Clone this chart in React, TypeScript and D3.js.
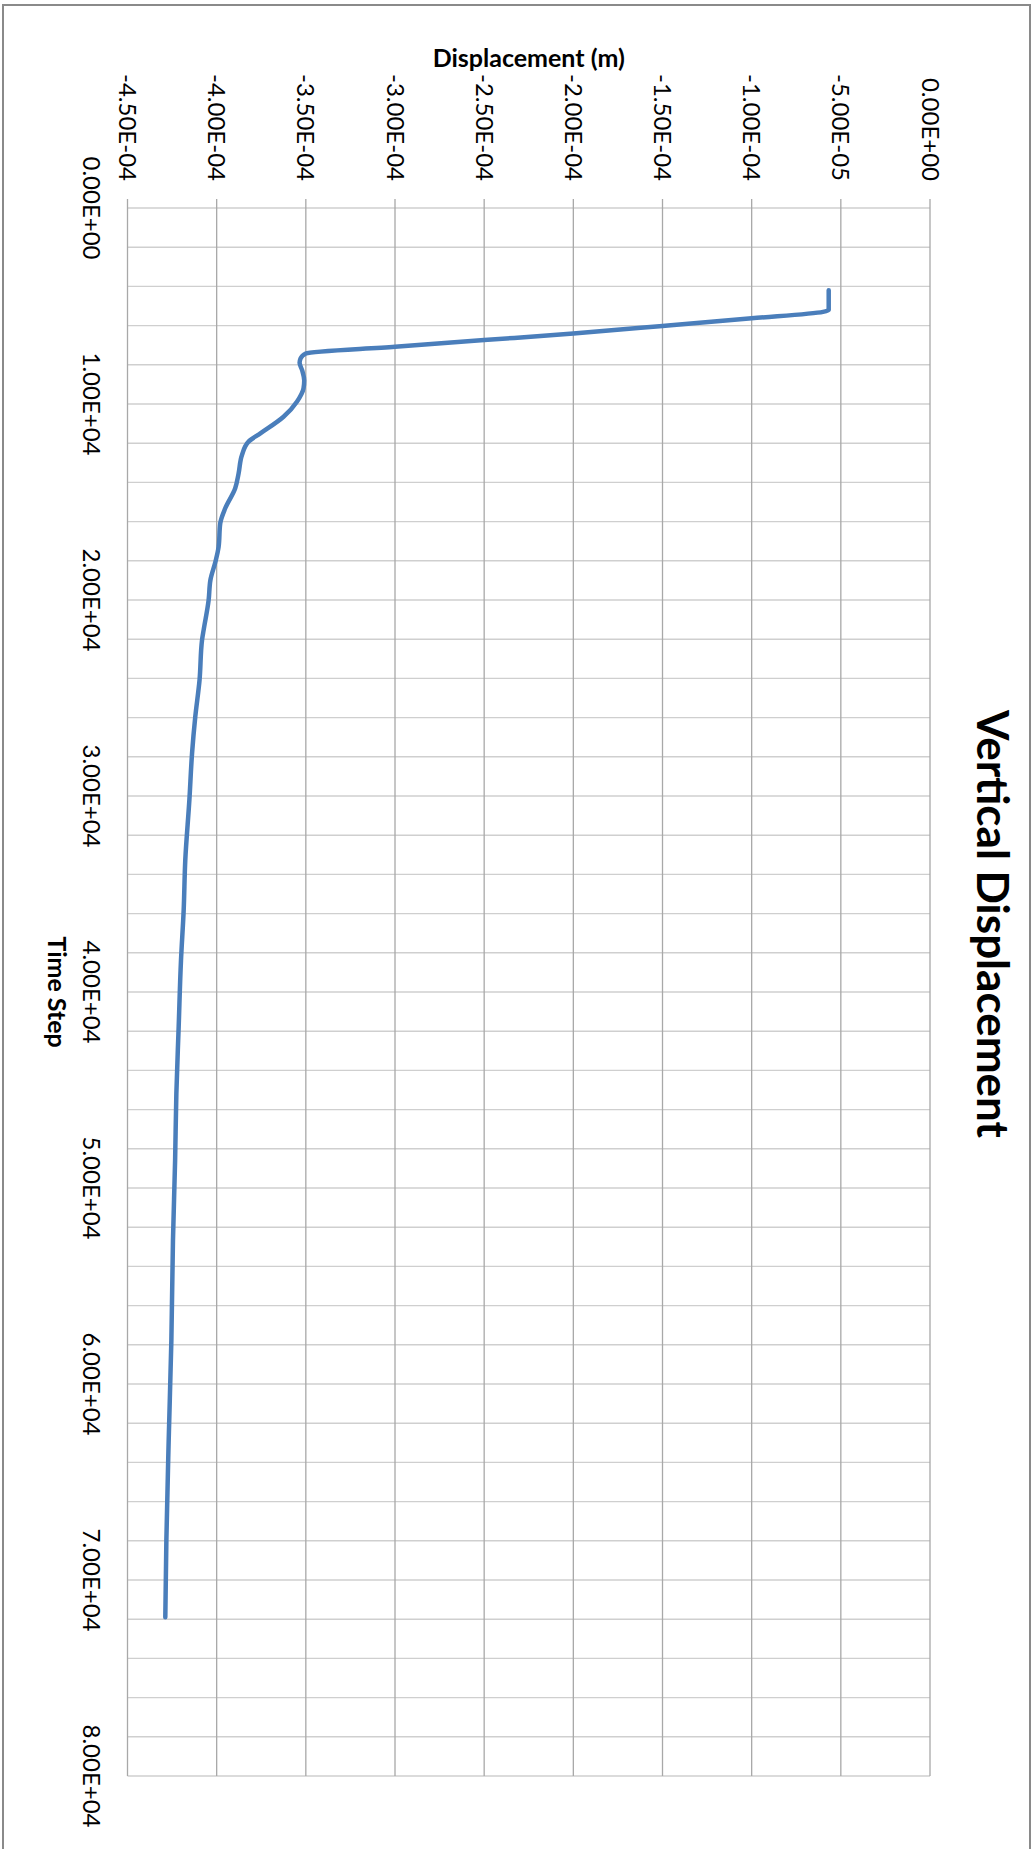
import React from "react";
import * as d3 from "d3";

// Time step samples of the monitored node
const timeSteps = [
  4200, 5200, 5300, 5630, 6020, 6400, 6740, 7080, 7420, 7680, 7900, 8300, 8800,
  9200, 9880, 10650, 11500, 11920, 12600, 13540, 14300, 15320, 16090, 17280,
  18050, 18980, 20000, 21530, 22040, 24080, 25960, 27820, 30200, 33270, 35820,
  38370, 41770, 45170, 48570, 52650, 57760, 62860, 67960, 71900,
];

// Vertical displacement (m) at each time step
const displacement = [
  -5.68e-5, -5.68e-5, -6.0e-5, -1.0e-4, -1.5e-4, -2.0e-4, -2.5e-4, -3.0e-4,
  -3.5e-4, -3.53e-4, -3.535e-4, -3.52e-4, -3.509e-4, -3.513e-4, -3.55e-4,
  -3.625e-4, -3.755e-4, -3.821e-4, -3.858e-4, -3.877e-4, -3.896e-4, -3.952e-4,
  -3.98e-4, -3.989e-4, -4.007e-4, -4.035e-4, -4.045e-4, -4.073e-4, -4.082e-4,
  -4.096e-4, -4.12e-4, -4.138e-4, -4.153e-4, -4.176e-4, -4.185e-4, -4.2e-4,
  -4.213e-4, -4.226e-4, -4.233e-4, -4.245e-4, -4.254e-4, -4.269e-4, -4.282e-4,
  -4.288e-4,
];

const dispTicks = [
  -4.5e-4, -4.0e-4, -3.5e-4, -3.0e-4, -2.5e-4, -2.0e-4, -1.5e-4, -1.0e-4,
  -5.0e-5, 0,
];
const dispTickLabels = [
  "-4.50E-04", "-4.00E-04", "-3.50E-04", "-3.00E-04", "-2.50E-04",
  "-2.00E-04", "-1.50E-04", "-1.00E-04", "-5.00E-05", "0.00E+00",
];
const timeTicks = [0, 10000, 20000, 30000, 40000, 50000, 60000, 70000, 80000];
const timeTickLabels = [
  "0.00E+00", "1.00E+04", "2.00E+04", "3.00E+04", "4.00E+04",
  "5.00E+04", "6.00E+04", "7.00E+04", "8.00E+04",
];
const timeMinorStep = 2000;

const W = 1032;
const H = 1849;
const plot = { left: 127.5, right: 930, top: 208, bottom: 1776 };
const FONT = "Lato, 'Open Sans', sans-serif";

export default function App() {
  const x = d3.scaleLinear().domain([-4.5e-4, 0]).range([plot.left, plot.right]);
  const y = d3.scaleLinear().domain([0, 80000]).range([plot.top, plot.bottom]);

  const minorTimes = d3.range(0, 80000 + 1, timeMinorStep);
  const points: [number, number][] = timeSteps.map((t, i) => [displacement[i], t]);

  const line = d3
    .line<[number, number]>()
    .x((p) => x(p[0]))
    .y((p) => y(p[1]))
    .curve(d3.curveMonotoneY);

  const cx = (plot.left + plot.right) / 2;
  const cy = (plot.top + plot.bottom) / 2;

  return (
    <svg
      width={W}
      height={H}
      style={{ position: "absolute", left: 0, top: 0, background: "#fff" }}
      fontFamily={FONT}
    >
      <rect x={0} y={0} width={W} height={H} fill="#fff" />
      <rect x={3} y={5} width={1027} height={1860} fill="none" stroke="#8a8a8a" strokeWidth={2} />

      {/* horizontal gridlines (time) */}
      {minorTimes.map((t) => (
        <line
          key={"h" + t}
          x1={plot.left}
          x2={plot.right}
          y1={y(t)}
          y2={y(t)}
          stroke="#cfcfcf"
          strokeWidth={1.4}
        />
      ))}

      {/* vertical gridlines and ticks (displacement) */}
      {dispTicks.map((d) => (
        <line
          key={"v" + d}
          x1={x(d)}
          x2={x(d)}
          y1={plot.top - 9}
          y2={plot.bottom}
          stroke="#a8a8a8"
          strokeWidth={1.3}
        />
      ))}

      {/* displacement tick labels */}
      {dispTicks.map((d, i) => (
        <text
          key={"dl" + d}
          transform={`translate(${x(d)},181) rotate(90)`}
          textAnchor="end"
          dy="0.35em"
          fontSize={24}
          fill="#000"
        >
          {dispTickLabels[i]}
        </text>
      ))}

      {/* time tick labels */}
      {timeTicks.map((t, i) => (
        <text
          key={"tl" + t}
          transform={`translate(83,${y(t)}) rotate(90)`}
          textAnchor="middle"
          fontSize={24}
          fill="#000"
        >
          {timeTickLabels[i]}
        </text>
      ))}

      {/* axis titles */}
      <text x={cx} y={66.5} textAnchor="middle" fontSize={25} fontWeight="bold" fill="#000">
        Displacement (m)
      </text>
      <text
        transform={`translate(47.5,${cy}) rotate(90)`}
        textAnchor="middle"
        fontSize={25}
        fontWeight="bold"
        fill="#000"
      >
        Time Step
      </text>

      {/* chart title */}
      <text
        transform={`translate(977,924) rotate(90)`}
        textAnchor="middle"
        fontSize={44}
        fontWeight="bold"
        fill="#000"
      >
        Vertical Displacement
      </text>

      {/* displacement series */}
      <path
        d={line(points) || ""}
        fill="none"
        stroke="#4a7ebb"
        strokeWidth={4.5}
        strokeLinejoin="round"
        strokeLinecap="round"
      />
    </svg>
  );
}
